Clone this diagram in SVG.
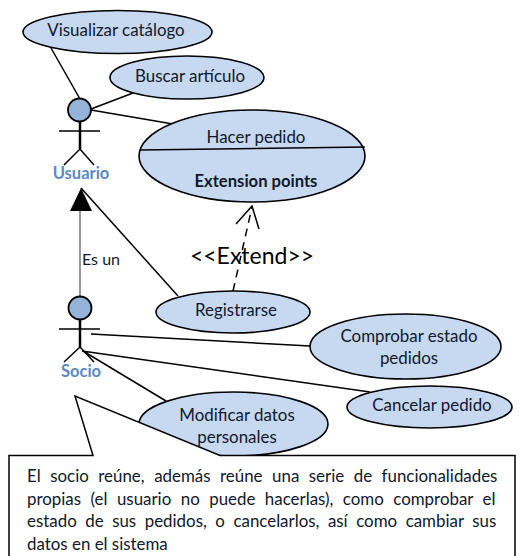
<svg xmlns="http://www.w3.org/2000/svg" width="521" height="556" viewBox="0 0 521 556">
<style>
text{font-family:"Lato","Liberation Sans",sans-serif;fill:#10182c;font-size:16.900px}
.m{text-anchor:middle}
.uc{fill:#c6d9f1;stroke:#000;stroke-width:1.6}
.l{stroke:#000;stroke-width:1.5;fill:none}
.fig{stroke:#000;stroke-width:1.500;fill:none}
.spine{stroke:#000;stroke-width:2.500;fill:none}
.head{fill:#95b3d7;stroke:#000;stroke-width:1.8}
.actor{font-weight:bold;fill:#5c88c5;font-size:16.500px;text-anchor:middle}
</style>
<rect width="521" height="556" fill="#fff"/>
<g id="connectors">
<path class="l" d="M51 48L80 99M91 109L133 93M91 110L173 124"/>
<path d="M80 211V297" stroke="#777" stroke-width="1.5" fill="none"/>
<path d="M81 188L70 211H92Z" fill="#000"/>
<path class="l" d="M81 188L178 296"/>
<path class="l" stroke-dasharray="8 6" d="M233 291L252 207"/>
<path class="l" d="M236 224L252 206L259 229"/>
<path class="l" d="M91 334L310 346M82 351L370 392M83 351L166 401"/>
</g>
<g id="uc-visualizar"><ellipse class="uc" cx="117.500" cy="32" rx="94.500" ry="21.500"/><text class="m" x="116" y="35.500">Visualizar catálogo</text></g>
<g id="uc-buscar"><ellipse class="uc" cx="187" cy="77.500" rx="77" ry="21.500"/><text class="m" x="190" y="81.500">Buscar artículo</text></g>
<g id="uc-hacer"><ellipse class="uc" cx="252" cy="156" rx="113" ry="46"/><path class="l" d="M140 150L365 147"/><text class="m" x="256" y="142.500">Hacer pedido</text><text class="m" x="256" y="187" font-weight="bold" style="font-size:16.600px">Extension points</text></g>
<g id="actor-usuario"><circle class="head" cx="79.500" cy="110" r="11.500"/><path class="fig" d="M59 131H100M64 165L80 149L94 165"/><path class="spine" d="M80 121.500V149"/><text class="actor" x="81" y="179">Usuario</text></g>
<g id="label-esun"><text x="82" y="265" style="font-size:16px">Es un</text></g>
<g id="label-extend"><text class="m" x="252" y="264" style="font-size:23px;fill:#000">&lt;&lt;Extend&gt;&gt;</text></g>
<g id="uc-registrarse"><ellipse class="uc" cx="233" cy="312" rx="77" ry="21"/><text class="m" x="236" y="315.500">Registrarse</text></g>
<g id="actor-socio"><circle class="head" cx="80" cy="308" r="11.500"/><path class="fig" d="M59 329H100M64 362L80 347L94 362"/><path class="spine" d="M80 319.500V347"/><text class="actor" x="81" y="376.500">Socio</text></g>
<g id="uc-comprobar"><ellipse class="uc" cx="405.500" cy="346.500" rx="95.500" ry="32.500"/><text class="m" x="409" y="341.500">Comprobar estado</text><text class="m" x="409" y="364">pedidos</text></g>
<g id="uc-cancelar"><ellipse class="uc" cx="429.500" cy="407" rx="82.500" ry="21"/><text class="m" x="432" y="410.500">Cancelar pedido</text></g>
<g id="uc-modificar"><ellipse class="uc" cx="233.500" cy="424" rx="94.500" ry="32"/></g>
<g id="callout">
<path d="M9 557V455.500H93L75 396L220 455.500H515V557Z" fill="#fff" stroke="#000" stroke-width="1.500"/>
<text class="m" x="237" y="420.500">Modificar datos</text><text class="m" x="237" y="443">personales</text>
<text x="27" y="482" word-spacing="5.200">El socio reúne, además reúne una serie de funcionalidades</text>
<text x="27" y="505" word-spacing="5.150">propias (el usuario no puede hacerlas), como comprobar el</text>
<text x="27" y="527" word-spacing="4.200">estado de sus pedidos, o cancelarlos, así como cambiar sus</text>
<text x="27" y="550">datos en el sistema</text>
</g>
</svg>
